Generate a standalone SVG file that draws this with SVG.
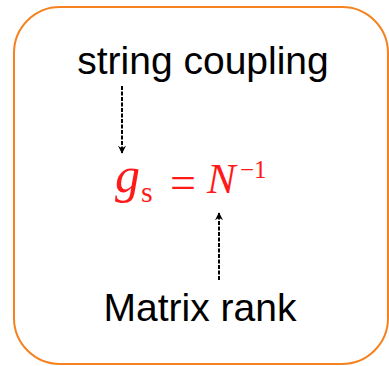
<svg xmlns="http://www.w3.org/2000/svg" width="389" height="366" viewBox="0 0 389 366">
<defs>
<style>
.lbl{font-family:"Liberation Sans",Arial,sans-serif;font-size:39px;fill:#000}
.eq{fill:#ff1a1a}
.conn{stroke:#000;stroke-width:2;stroke-dasharray:4 1.5;fill:none}
</style>
<marker id="ah" viewBox="0 0 10 10" refX="9" refY="5" markerWidth="8" markerHeight="8" markerUnits="userSpaceOnUse" orient="auto">
<path d="M0,0 L10,5 L0,10 L3,5 Z" fill="#000"/>
</marker>
</defs>
<g id="frame">
<rect x="14" y="7" width="374" height="357" rx="46" ry="46" fill="#fff" stroke="#f5821f" stroke-width="2"/>
</g>
<g id="string-coupling">
<text class="lbl" x="203" y="74" text-anchor="middle">string coupling</text>
</g>
<g id="equation">
<text x="115" y="192" class="eq" font-family="'Liberation Serif',serif" font-style="italic" font-size="50">g</text>
<text x="141" y="202" class="eq" font-family="'Liberation Serif',serif" font-size="30">s</text>
<text x="170" y="198" class="eq" font-family="'Liberation Serif',serif" font-size="46">=</text>
<text x="207" y="193" class="eq" font-family="'Liberation Serif',serif" font-style="italic" font-size="43">N</text>
<text x="240" y="178" class="eq" font-family="'Liberation Serif',serif" font-size="25">−1</text>
</g>
<g id="matrix-rank">
<text class="lbl" x="200" y="321" text-anchor="middle">Matrix rank</text>
</g>
<g id="connectors">
<line class="conn" x1="122" y1="86" x2="122" y2="153" marker-end="url(#ah)"/>
<line class="conn" x1="219" y1="280" x2="219" y2="213" marker-end="url(#ah)"/>
</g>
</svg>
